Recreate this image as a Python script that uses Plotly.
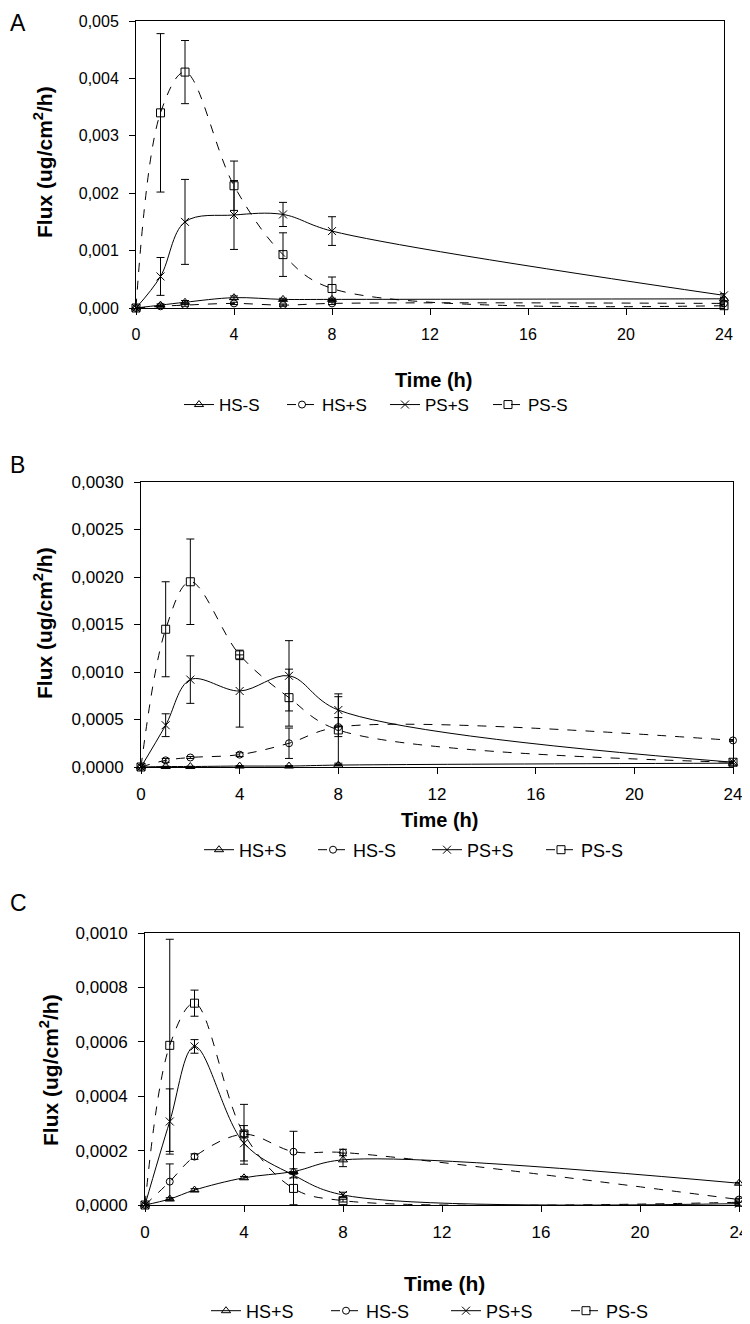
import plotly.graph_objects as go

# The page body has an 8px margin, so the figure is drawn 8px in from the window edge.
OFF = 8
W, H = 750 - OFF, 1324 - OFF

t = [0, 1, 2, 4, 6, 8, 24]
x_ticks = [0, 4, 8, 12, 16, 20, 24]

# ---- Panel A ----
a_names = ["HS-S", "HS+S", "PS+S", "PS-S"]
a_hs_m = [0, 0.00005, 0.00010, 0.00018, 0.00015, 0.00015, 0.00016]
a_hs_e = [0, 0.00002, 0.00003, 0.00003, 0.00002, 0.00002, 0.00002]
a_hsp_m = [0, 0.00003, 0.00005, 0.00008, 0.00005, 0.00008, 0.00008]
a_hsp_e = [0, 0.00001, 0.00002, 0.00002, 0.00002, 0.00002, 0.00001]
a_psp_m = [0, 0.00055, 0.00150, 0.00162, 0.00163, 0.00134, 0.00022]
a_psp_e = [0, 0.00033, 0.00074, 0.00060, 0.00021, 0.00025, 0.00003]
a_psm_m = [0, 0.00340, 0.00411, 0.00213, 0.00093, 0.00034, 0.00004]
a_psm_e = [0, 0.00138, 0.00055, 0.00043, 0.00038, 0.00020, 0.00002]
a_yticks = [0, 0.001, 0.002, 0.003, 0.004, 0.005]

# ---- Panel B ----
b_names = ["HS+S", "HS-S", "PS+S", "PS-S"]
b_hsp_m = [0, 0.000005, 0.000005, 0.00001, 0.00001, 0.00002, 0.00004]
b_hsp_e = [0, 0.000003, 0.000003, 0.000005, 0.000005, 0.000005, 0.000005]
b_hsm_m = [0, 0.00007, 0.00010, 0.00013, 0.00025, 0.00042, 0.00028]
b_hsm_e = [0, 0.00002, 0.00001, 0.00002, 0.00016, 0.00010, 0.00001]
b_psp_m = [0, 0.00044, 0.00092, 0.00080, 0.00096, 0.00060, 0.00005]
b_psp_e = [0, 0.00012, 0.00025, 0.00038, 0.00037, 0.00017, 0.00001]
b_psm_m = [0, 0.00145, 0.00195, 0.00118, 0.00073, 0.00039, 0.00005]
b_psm_e = [0, 0.00050, 0.00045, 0.00005, 0.00030, 0.00035, 0.00001]
b_yticks = [0, 0.0005, 0.0010, 0.0015, 0.0020, 0.0025, 0.0030]

# ---- Panel C ----
c_names = ["HS+S", "HS-S", "PS+S", "PS-S"]
c_hsp_m = [0, 0.000022, 0.000055, 0.000100, 0.000123, 0.000166, 0.000080]
c_hsp_e = [0, 0.000005, 0.000005, 0.000005, 0.000010, 0.000025, 0.000003]
c_hsm_m = [0, 0.000086, 0.000178, 0.000260, 0.000196, 0.000193, 0.000020]
c_hsm_e = [0, 0.000065, 0.000010, 0.000110, 0.000075, 0.000012, 0.000002]
c_psp_m = [0, 0.000307, 0.000583, 0.000227, 0.000110, 0.000037, 0.000005]
c_psp_e = [0, 0.000120, 0.000025, 0.000065, 0.000010, 0.000010, 0.000002]
c_psm_m = [0, 0.000587, 0.000742, 0.000261, 0.000061, 0.000016, 0.000010]
c_psm_e = [0, 0.000390, 0.000048, 0.000010, 0.000060, 0.000005, 0.000002]
c_yticks = [0, 0.0002, 0.0004, 0.0006, 0.0008, 0.0010]

FONT = "Liberation Sans, Arial, sans-serif"
styles = [
    dict(symbol="triangle-up-open", dash="solid", size=8),
    dict(symbol="circle-open", dash="dash", size=7),
    dict(symbol="x-thin-open", dash="solid", size=8),
    dict(symbol="square-open", dash="dash", size=8),
]


def fx(px):
    return (px - OFF) / W


def fy(py):
    return 1 - (py - OFF) / H


fig = go.Figure()

panels = [
    ("", a_names, [(a_hs_m, a_hs_e), (a_hsp_m, a_hsp_e), (a_psp_m, a_psp_e), (a_psm_m, a_psm_e)], "legend"),
    ("2", b_names, [(b_hsp_m, b_hsp_e), (b_hsm_m, b_hsm_e), (b_psp_m, b_psp_e), (b_psm_m, b_psm_e)], "legend2"),
    ("3", c_names, [(c_hsp_m, c_hsp_e), (c_hsm_m, c_hsm_e), (c_psp_m, c_psp_e), (c_psm_m, c_psm_e)], "legend3"),
]

for suf, names, series, leg in panels:
    for name, (m, e), st in zip(names, series, styles):
        fig.add_trace(go.Scatter(
            x=t, y=m, name=name, mode="lines+markers",
            xaxis="x" + suf, yaxis="y" + suf, legend=leg,
            line=dict(color="black", width=1, dash=st["dash"], shape="spline", smoothing=1.0),
            marker=dict(symbol=st["symbol"], size=st["size"], color="black",
                        line=dict(color="black", width=1)),
            error_y=dict(type="data", array=e, visible=True, color="black", thickness=1, width=4),
            cliponaxis=False,
        ))

# plot-area pixel boxes in window pixels (left, right, top, bottom)
boxes = [(136, 724, 21, 308), (141, 733, 482, 767), (145, 739, 933, 1205)]
yinfo = [(a_yticks, ".3f", 0.005, 16), (b_yticks, ".4f", 0.003, 17), (c_yticks, ".4f", 0.001, 17)]

layout = dict(width=W, height=H, margin=dict(l=0, r=0, t=0, b=0, autoexpand=False),
              paper_bgcolor="white", plot_bgcolor="white",
              separators=", ", font=dict(family=FONT, color="black"))

for i, ((l, r, tp, bt), (yt, fmt, ymax, fs)) in enumerate(zip(boxes, yinfo)):
    suf = "" if i == 0 else str(i + 1)
    common = dict(showline=True, linecolor="black", linewidth=1, mirror=True,
                  ticks="outside", ticklen=6, tickcolor="black", tickwidth=1,
                  showgrid=False, zeroline=False, automargin=False,
                  tickfont=dict(family=FONT, size=fs, color="black"))
    layout["xaxis" + suf] = dict(common, domain=[fx(l), fx(r)], range=[0, 24], tickvals=x_ticks,
                                 anchor="y" + suf, ticklabelstandoff=6)
    layout["yaxis" + suf] = dict(common, domain=[fy(bt), fy(tp)], range=[0, ymax], tickvals=yt,
                                 tickformat=fmt, anchor="x" + suf, ticklabelstandoff=7)

# legend centre (x, y) in window pixels, font size, entry width
legend_pos = [(385, 405, 17, 58), (427, 850, 18, 69), (446, 1311, 18, 75)]
for i, (lx, ly, fs, ew) in enumerate(legend_pos):
    key = "legend" if i == 0 else "legend" + str(i + 1)
    layout[key] = dict(orientation="h", x=fx(lx), xanchor="center", y=fy(ly),
                       yanchor="middle", font=dict(family=FONT, size=fs, color="black"),
                       bgcolor="rgba(0,0,0,0)", itemwidth=30, tracegroupgap=0,
                       entrywidth=ew, entrywidthmode="pixels")

fig.update_layout(**layout)

annots = []
for lbl, (py, anchor) in zip(["A", "B", "C"], [(8, "top"), (465, "middle"), (903, "middle")]):
    annots.append(dict(text=lbl, x=0, y=fy(py), xref="paper", yref="paper",
                       showarrow=False, xanchor="left", yanchor=anchor,
                       font=dict(family=FONT, size=23, color="black")))
for (px, py, fs) in [(433, 380, 20), (439, 820, 20), (444, 1283, 21)]:
    annots.append(dict(text="<b>Time (h)</b>", x=fx(px), y=fy(py), xref="paper", yref="paper",
                       showarrow=False, xanchor="center", yanchor="middle",
                       font=dict(family=FONT, size=fs, color="black")))
for (px, py) in [(43, 162), (43, 623), (49, 1070)]:
    annots.append(dict(text="<b>Flux (ug/cm<sup>2</sup>/h)</b>", x=fx(px), y=fy(py),
                       xref="paper", yref="paper", textangle=-90,
                       showarrow=False, xanchor="center", yanchor="middle",
                       font=dict(family=FONT, size=21, color="black")))
fig.update_layout(annotations=annots)

fig.write_html("out.html")
